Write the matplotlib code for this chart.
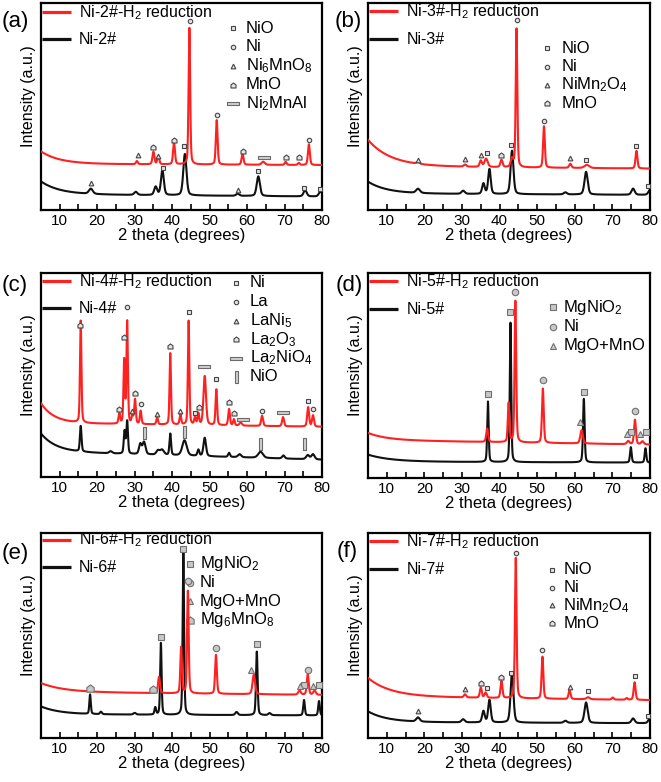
import numpy as np
import matplotlib.pyplot as plt
from matplotlib.path import Path

plt.rcParams['font.family'] = ['Liberation Sans', 'DejaVu Sans']
plt.rcParams['mathtext.fontset'] = 'custom'
plt.rcParams['mathtext.rm'] = 'Liberation Sans'
plt.rcParams['mathtext.it'] = 'Liberation Sans:italic'
plt.rcParams['mathtext.bf'] = 'Liberation Sans:bold'

# ---- data: peaks as (2theta, height, fwhm), background as
# (level at 5, level at 80, low-angle rise, rise decay), marks as (phase, 2theta, y)

# (a) Ni-2#
a_names = ['Ni-2#-H$_2$ reduction', 'Ni-2#']
a_phases = ['NiO', 'Ni', 'Ni$_6$MnO$_8$', 'MnO', 'Ni$_2$MnAl']
a_shapes = ['sq', 'circ', 'tri', 'house', 'hrect']
a_red_bg = (22.3, 21.7, 6.0, 5)
a_red_peaks = [(30.6, 1.5, 0.6), (35.0, 6, 0.6), (36.3, 4, 0.6), (40.5, 10.5, 0.6),
               (44.6, 66, 0.5), (51.9, 21.5, 0.55), (58.8, 5.5, 0.6), (64.3, 1.5, 1.0),
               (70.3, 1.5, 0.6), (73.8, 1.0, 0.6), (76.5, 10, 0.6)]
a_blk_bg = (7.6, 6.5, 6.2, 5)
a_blk_peaks = [(18.3, 2.5, 1.2), (30.3, 1.5, 1.0), (35.6, 4, 0.9), (37.4, 12, 0.9),
               (43.4, 20, 1.0), (57.5, 1.0, 1.0), (63.0, 9.5, 1.0), (75.5, 3, 1.0),
               (79.6, 2.5, 1.0)]
a_marks = [(2, 30.8, 26.6), (3, 35.0, 30.6), (2, 36.3, 26.1), (3, 40.5, 33.9),
           (0, 43.3, 31.0), (1, 44.7, 91.5), (1, 52.0, 46.0), (3, 58.9, 28.7),
           (4, 64.5, 25.5), (3, 70.4, 25.8), (3, 73.9, 25.8), (1, 76.6, 33.9),
           (2, 18.3, 12.9), (0, 37.5, 20.5), (0, 63.0, 18.9), (2, 57.5, 9.7),
           (0, 75.3, 10.8), (0, 79.5, 10.0)]

# (b) Ni-3#
b_names = ['Ni-3#-H$_2$ reduction', 'Ni-3#']
b_phases = ['NiO', 'Ni', 'NiMn$_2$O$_4$', 'MnO']
b_shapes = ['sq', 'circ', 'tri', 'house']
b_red_bg = (21.2, 20.0, 12.7, 6)
b_red_peaks = [(18.3, 0.8, 1.0), (30.8, 1.0, 0.8), (35.0, 3, 0.7), (36.4, 4, 1.0),
               (40.5, 3.5, 0.7), (43.3, 4, 0.8), (44.5, 67, 0.5), (51.8, 20, 0.55),
               (58.8, 2, 0.7), (63.2, 1.5, 1.5), (76.4, 8.5, 0.6)]
b_blk_bg = (8.0, 7.3, 5.7, 5)
b_blk_peaks = [(18.3, 2, 1.2), (30.3, 1.5, 1.0), (35.7, 5, 0.8), (37.3, 12, 0.8),
               (43.3, 21, 0.9), (57.5, 1.0, 1.0), (63.0, 11, 1.0), (75.5, 3, 1.0),
               (80.0, 2.5, 1.0)]
b_marks = [(2, 18.3, 24.2), (2, 30.8, 24.5), (2, 35.0, 26.8), (0, 36.7, 27.7),
           (3, 40.5, 26.8), (0, 43.0, 31.5), (1, 44.5, 91.9), (1, 51.8, 43.2),
           (2, 58.8, 25.3), (0, 63.0, 24.2), (0, 76.3, 31.1), (0, 79.5, 11.8)]

# (c) Ni-4#
c_names = ['Ni-4#-H$_2$ reduction', 'Ni-4#']
c_phases = ['Ni', 'La', 'LaNi$_5$', 'La$_2$O$_3$', 'La$_2$NiO$_4$', 'NiO']
c_shapes = ['sq', 'circ', 'tri', 'house', 'hrect', 'vrect']
c_red_bg = (26.5, 24.6, 9.6, 3.5)
c_red_peaks = [(15.6, 50, 0.45), (25.9, 5, 0.5), (27.2, 31, 0.45), (28.0, 50, 0.45),
               (29.4, 4, 0.5), (30.1, 12, 0.5), (31.6, 6.5, 0.5), (36.0, 3.5, 0.5),
               (39.5, 35, 0.45), (42.2, 5, 0.5), (44.4, 51, 0.45), (46.1, 3.5, 0.5),
               (47.0, 5.5, 0.5), (48.7, 24, 0.8), (51.8, 17.5, 0.5), (55.2, 8, 0.55),
               (56.5, 3, 0.5), (58.3, 1.5, 0.8), (64.0, 5, 0.6), (69.6, 4.5, 0.6),
               (76.3, 9.5, 0.6), (77.6, 5.5, 0.6)]
c_blk_bg = (12.5, 8.5, 8.8, 4)
c_blk_peaks = [(15.6, 12.5, 0.5), (23.6, 1.0, 1.0), (27.3, 11, 0.5), (28.0, 16, 0.5),
               (31.5, 5, 0.8), (32.5, 6, 0.9), (36.2, 2, 1.0), (37.3, 2.5, 1.2),
               (39.5, 10.5, 0.5), (43.3, 7.5, 1.4), (47.0, 3, 0.6), (48.7, 9, 0.8),
               (55.2, 2, 0.6), (58.0, 1.5, 1.0), (63.6, 3, 1.5), (69.7, 1.5, 0.8),
               (76.2, 2, 1.0), (77.6, 2.5, 1.0)]
c_marks = [(3, 15.5, 74.6), (3, 25.9, 33.3), (3, 27.2, 68.4), (1, 28.0, 83.1),
           (2, 29.4, 32.5), (3, 30.1, 41.3), (1, 31.6, 35.7), (2, 36.0, 30.8),
           (3, 39.5, 64.3), (2, 42.2, 32.5), (0, 44.4, 80.8), (0, 46.1, 31.5),
           (3, 47.1, 34.1), (4, 48.5, 54.4), (0, 51.8, 47.9), (3, 55.2, 36.9),
           (3, 56.5, 31.5), (4, 59.0, 28.5), (1, 64.0, 32.3), (4, 69.6, 31.8),
           (0, 76.3, 37.2), (1, 77.6, 33.1),
           (5, 32.5, 21.6), (5, 43.3, 22.1), (5, 63.5, 16.4), (5, 75.3, 16.1)]

# (d) Ni-5#
d_names = ['Ni-5#-H$_2$ reduction', 'Ni-5#']
d_phases = ['MgNiO$_2$', 'Ni', 'MgO+MnO']
d_shapes = ['sq', 'circ', 'tri']
d_red_bg = (18.5, 16.3, 3.5, 5)
d_red_peaks = [(36.7, 6.5, 0.6), (42.4, 19, 0.5), (44.2, 69, 0.5), (51.5, 26.5, 0.55),
               (61.8, 6.5, 0.8), (74.2, 1.5, 0.8), (76.0, 12, 0.6), (78.0, 1.5, 0.8)]
d_blk_bg = (8.0, 7.5, 3.4, 6)
d_blk_peaks = [(36.9, 29.5, 0.45), (42.9, 68, 0.45), (62.4, 31, 0.5), (74.9, 7.5, 0.5),
               (78.8, 7, 0.5)]
d_marks = [(0, 36.8, 41.0), (0, 42.8, 81.0), (1, 44.2, 90.7), (1, 51.5, 47.6),
           (2, 61.3, 27.3), (0, 62.5, 42.0), (1, 76.0, 32.5), (2, 73.8, 21.6),
           (0, 75.0, 22.3), (2, 77.3, 21.6), (0, 79.0, 22.3)]

# (e) Ni-6#
e_names = ['Ni-6#-H$_2$ reduction', 'Ni-6#']
e_phases = ['MgNiO$_2$', 'Ni', 'MgO+MnO', 'Mg$_6$MnO$_8$']
e_shapes = ['sq', 'circ', 'tri', 'house']
e_red_bg = (22.5, 21.0, 4.3, 6)
e_red_peaks = [(36.5, 8, 0.6), (42.4, 22.5, 0.5), (44.2, 50, 0.5), (51.7, 19, 0.55),
               (61.8, 9.5, 0.8), (74.0, 2, 0.8), (76.2, 10, 0.6), (78.0, 2, 0.8)]
e_blk_bg = (11.6, 11.0, 3.8, 5)
e_blk_peaks = [(18.1, 9.5, 0.45), (21.0, 1.2, 0.6), (30.0, 0.8, 0.8), (35.5, 3.5, 0.5),
               (37.0, 35, 0.45), (43.0, 79, 0.45), (57.2, 1.5, 0.8), (62.6, 31, 0.5),
               (66.0, 1.0, 0.8), (75.2, 7.5, 0.5), (79.2, 7, 0.5)]
e_marks = [(3, 18.1, 24.4), (3, 35.0, 24.1), (0, 36.9, 49.1), (0, 42.9, 92.2),
           (1, 44.3, 76.4), (1, 51.7, 43.9), (2, 61.0, 33.0), (0, 62.6, 46.0),
           (1, 76.2, 33.3), (2, 74.2, 25.2), (0, 75.3, 26.0), (2, 77.6, 25.2),
           (0, 79.3, 25.7)]

# (f) Ni-7#
f_names = ['Ni-7#-H$_2$ reduction', 'Ni-7#']
f_phases = ['NiO', 'Ni', 'NiMn$_2$O$_4$', 'MnO']
f_shapes = ['sq', 'circ', 'tri', 'house']
f_red_bg = (20.3, 18.5, 9.0, 6)
f_red_peaks = [(30.8, 1.5, 0.7), (35.0, 5, 0.6), (36.3, 2.5, 0.7), (40.5, 8.3, 0.6),
               (44.3, 68.5, 0.5), (51.4, 20.5, 0.55), (58.6, 4.3, 0.6), (63.5, 1.0, 1.0),
               (70.1, 1.0, 0.6), (73.8, 0.8, 0.6), (75.9, 8.6, 0.6)]
f_blk_bg = (7.8, 7.2, 5.2, 5)
f_blk_peaks = [(18.3, 2, 1.1), (30.3, 1.5, 1.0), (35.7, 5.5, 0.8), (37.3, 11, 0.8),
               (43.3, 24.5, 0.9), (57.5, 1.0, 1.0), (63.0, 10, 1.0), (75.5, 2.3, 1.0),
               (80.0, 2.5, 1.0)]
f_marks = [(2, 18.3, 13.3), (2, 30.8, 23.9), (3, 35.0, 26.8), (0, 36.6, 24.4),
           (3, 40.5, 29.8), (0, 43.1, 31.7), (1, 44.3, 90.2), (1, 51.4, 42.8),
           (2, 58.6, 24.9), (0, 63.5, 23.1), (0, 75.9, 30.1), (0, 79.5, 10.6)]

# ---- marker shapes
house = Path([(-0.5, -0.5), (0.5, -0.5), (0.5, 0.12), (0, 0.5), (-0.5, 0.12), (-0.5, -0.5)], closed=True)
hrect = Path([(-1, -0.27), (1, -0.27), (1, 0.27), (-1, 0.27), (-1, -0.27)], closed=True)
vrect = Path([(-0.27, -1), (0.27, -1), (0.27, 1), (-0.27, 1), (-0.27, -1)], closed=True)
shape_marker = {'sq': 's', 'circ': 'o', 'tri': '^', 'house': house, 'hrect': hrect, 'vrect': vrect}
shape_size = {'sq': 3.2, 'circ': 3.2, 'tri': 3.4, 'house': 3.6, 'hrect': 8, 'vrect': 8}

x = np.linspace(5, 80, 3001)


def pattern(peaks, bg):
    left, right, amp, tau = bg
    y = left + (right - left) * (x - 5) / 75 + amp * np.exp(-(x - 5) / tau)
    for pos, h, w in peaks:
        g = np.exp(-4 * np.log(2) * ((x - pos) / w) ** 2)
        lor = 1 / (1 + 4 * ((x - pos) / w) ** 2)
        y = y + h * (0.65 * g + 0.35 * lor)
    return y


W, H = 661, 782
fig = plt.figure(figsize=(W / 100, H / 100), dpi=100)

red = '#ff2020'
blk = '#111111'

panels = [
    # label, data, axes box in px (left, top, right, bottom), legend layout, big markers
    ('(a)', (a_names, a_phases, a_shapes, a_red_peaks, a_red_bg, a_blk_peaks, a_blk_bg, a_marks),
     (41, 3, 322, 210), (15, 22), (0.955, 0.826), (0.684, 0.729, 0.879, 0.091), False),
    ('(b)', (b_names, b_phases, b_shapes, b_red_peaks, b_red_bg, b_blk_peaks, b_blk_bg, b_marks),
     (368, 3, 650, 210), (348, 22), (0.96, 0.826), (0.633, 0.686, 0.782, 0.089), False),
    ('(c)', (c_names, c_phases, c_shapes, c_red_peaks, c_red_bg, c_blk_peaks, c_blk_bg, c_marks),
     (41, 273, 322, 477), (15, 285), (0.959, 0.828), (0.695, 0.743, 0.951, 0.092), False),
    ('(d)', (d_names, d_phases, d_shapes, d_red_peaks, d_red_bg, d_blk_peaks, d_blk_bg, d_marks),
     (368, 273, 650, 478), (349, 285), (0.959, 0.824), (0.657, 0.692, 0.833, 0.094), True),
    ('(e)', (e_names, e_phases, e_shapes, e_red_peaks, e_red_bg, e_blk_peaks, e_blk_bg, e_marks),
     (41, 533, 322, 738), (15, 553), (0.967, 0.833), (0.530, 0.565, 0.849, 0.091), True),
    ('(f)', (f_names, f_phases, f_shapes, f_red_peaks, f_red_bg, f_blk_peaks, f_blk_bg, f_marks),
     (368, 533, 650, 738), (347, 552), (0.959, 0.824), (0.654, 0.692, 0.821, 0.087), False),
]

for label, data, box, lab_pos, leg_y, plist, big in panels:
    names, phases, shapes, rp, rbg, bp, bbg, marks = data
    l, t, r, b = box
    ax = fig.add_axes([l / W, 1 - b / H, (r - l) / W, (b - t) / H])

    ax.plot(x, pattern(bp, bbg), color=blk, lw=1.5, zorder=2)
    ax.plot(x, pattern(rp, rbg), color=red, lw=1.5, zorder=3)

    if big:
        mfc, mec, mew, scale = '#c8c8c8', '#707070', 0.8, 1.45
    else:
        mfc, mec, mew, scale = '#e4e4e4', '#454545', 0.8, 1.0

    for i, shp in enumerate(shapes):
        pts = [(mx, my) for k, mx, my in marks if k == i]
        ms = shape_size[shp] * (scale if shp not in ('hrect', 'vrect') else 1)
        if shp in ('hrect', 'vrect'):
            fc, ec = '#d0d0d0', '#6a6a6a'
        else:
            fc, ec = mfc, mec
        if pts:
            ax.plot([p[0] for p in pts], [p[1] for p in pts], ls='none',
                    marker=shape_marker[shp], ms=ms, mfc=fc, mec=ec, mew=mew, zorder=4)
        # phase key
        mx, tx, y0, dy = plist
        yy = y0 - i * dy
        ax.plot([mx], [yy], transform=ax.transAxes, ls='none', marker=shape_marker[shp],
                ms=ms, mfc=fc, mec=ec, mew=mew, clip_on=False)
        ax.text(tx, yy, phases[i], transform=ax.transAxes, fontsize=12,
                va='center', ha='left')

    # line key
    for yy, col, nm in zip(leg_y, [red, blk], names):
        ax.plot([0.004, 0.105], [yy, yy], transform=ax.transAxes, color=col, lw=2.3,
                solid_capstyle='butt')
        ax.text(0.136, yy, nm, transform=ax.transAxes, fontsize=11.5, va='center', ha='left')

    ax.set_xlim(5, 80)
    ax.set_ylim(0, 100)
    ax.set_xticks(range(10, 81, 10))
    ax.set_xticks(range(5, 81, 5), minor=True)
    ax.tick_params(axis='x', which='both', direction='in', length=4, width=1.2,
                   labelsize=11, pad=3)
    ax.tick_params(axis='y', left=False, labelleft=False)
    for s in ax.spines.values():
        s.set_linewidth(1.6)
    ax.set_xlabel('2 theta (degrees)', fontsize=12, labelpad=0)
    ax.set_ylabel('Intensity (a.u.)', fontsize=11.5)
    ax.yaxis.set_label_coords(-0.018, 0.55)

    fig.text(lab_pos[0] / W, 1 - lab_pos[1] / H, label, fontsize=16,
             ha='center', va='center')

fig.savefig('out.png', dpi=100)
